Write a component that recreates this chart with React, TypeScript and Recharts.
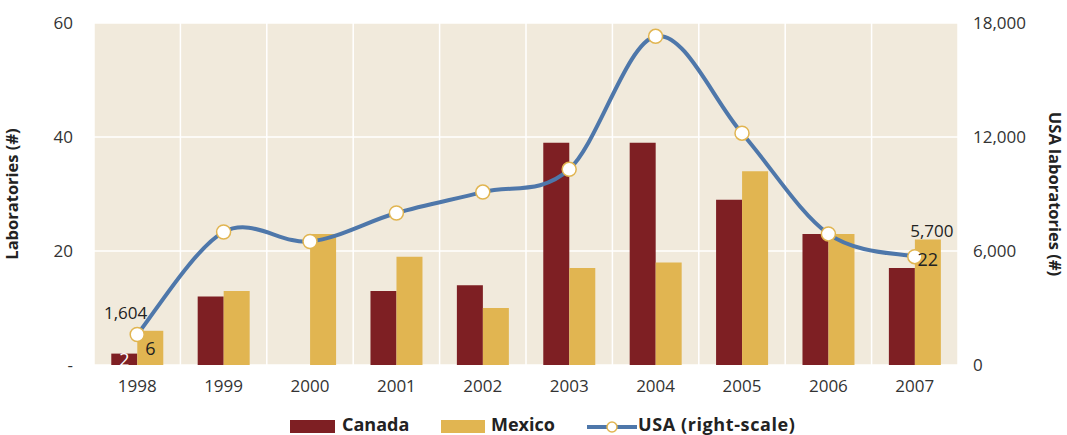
import React from 'react';
import {
  ComposedChart,
  Bar,
  Line,
  XAxis,
  YAxis,
  CartesianGrid,
  LabelList,
} from 'recharts';

const years = ['1998', '1999', '2000', '2001', '2002', '2003', '2004', '2005', '2006', '2007'];
const canada = [2, 12, 0, 13, 14, 39, 39, 29, 23, 17];
const mexico = [6, 13, 23, 19, 10, 17, 18, 34, 23, 22];
const usa = [1604, 7000, 6500, 8000, 9100, 10300, 17300, 12200, 6900, 5700];

const leftTicks = [0, 20, 40, 60];
const rightTicks = [0, 6000, 12000, 18000];

// only the first and last year carry value labels
const labelled = [0, 9];

const CANADA = '#7E1F23';
const MEXICO = '#E1B551';
const USA = '#4E77AA';
const PLOT_BG = '#F1EADC';
const FONT = '"Open Sans", sans-serif';

const data = years.map((year, i) => ({
  year,
  canada: canada[i],
  mexico: mexico[i],
  usa: usa[i],
}));

// Excel-style smoothed line (Catmull-Rom through every point)
const smoothCurve = (ctx: any) => {
  let pts: [number, number][] = [];
  return {
    areaStart() {},
    areaEnd() {},
    lineStart() {
      pts = [];
    },
    lineEnd() {
      pts.forEach(([x, y], i) => {
        if (i === 0) {
          ctx.moveTo(x, y);
          return;
        }
        const p0 = pts[Math.max(i - 2, 0)];
        const p1 = pts[i - 1];
        const p3 = pts[Math.min(i + 1, pts.length - 1)];
        ctx.bezierCurveTo(
          p1[0] + (x - p0[0]) / 6,
          p1[1] + (y - p0[1]) / 6,
          x - (p3[0] - p1[0]) / 6,
          y - (p3[1] - p1[1]) / 6,
          x,
          y
        );
      });
    },
    point(x: number, y: number) {
      pts.push([+x, +y]);
    },
  };
};

const barLabel = (color: string) => (props: any) => {
  const { x, y, width, height, value, index } = props;
  if (!labelled.includes(index)) return null;
  const cy = y + Math.min(19, height / 2);
  return (
    <text
      x={x + width / 2}
      y={cy}
      textAnchor="middle"
      dominantBaseline="central"
      fill={color}
      fontSize={18}
      fontFamily={FONT}
    >
      {value}
    </text>
  );
};

const usaLabel = (props: any) => {
  const { x, y, value, index } = props;
  if (!labelled.includes(index)) return null;
  const first = index === 0;
  return (
    <text
      x={first ? x + 10 : x + 17}
      y={first ? y - 22 : y - 26}
      textAnchor={first ? 'end' : 'middle'}
      dominantBaseline="central"
      fill="#222"
      fontSize={17}
      fontFamily={FONT}
    >
      {value.toLocaleString('en-US')}
    </text>
  );
};

const gridColumns = ({ offset }: any) =>
  years.map((_, i) => offset.left + (offset.width * i) / years.length).concat(offset.left + offset.width);

const tickStyle = { fill: '#333', fontSize: 17, fontFamily: FONT };

const LegendRow = () => (
  <div
    style={{
      position: 'absolute',
      left: 0,
      top: 417,
      width: 1067,
      height: 20,
      fontFamily: FONT,
      fontWeight: 700,
      fontSize: 18,
      color: '#222',
      whiteSpace: 'nowrap',
    }}
  >
    <div style={{ position: 'absolute', left: 290, top: 3, width: 45, height: 13, background: CANADA }} />
    <span style={{ position: 'absolute', left: 342, top: -5 }}>Canada</span>
    <div style={{ position: 'absolute', left: 441, top: 3, width: 44, height: 13, background: MEXICO }} />
    <span style={{ position: 'absolute', left: 491, top: -5 }}>Mexico</span>
    <svg style={{ position: 'absolute', left: 586, top: 0 }} width={52} height={20}>
      <line x1={1} y1={10} x2={51} y2={10} stroke={USA} strokeWidth={4} />
      <circle cx={26} cy={10} r={5} fill="#fff" stroke={MEXICO} strokeWidth={1.5} />
    </svg>
    <span style={{ position: 'absolute', left: 638, top: -5, letterSpacing: 0.6 }}>USA (right-scale)</span>
  </div>
);

export default function App() {
  return (
    <div style={{ position: 'absolute', left: 0, top: 0, width: 1067, height: 435, background: '#fff' }}>
      <ComposedChart
        width={1067}
        height={435}
        data={data}
        margin={{ top: 23, right: 0, bottom: 0, left: 0 }}
        barCategoryGap="20%"
        barGap={0}
      >
        <CartesianGrid
          yAxisId="left"
          fill={PLOT_BG}
          stroke="#fff"
          strokeWidth={1.5}
          verticalCoordinatesGenerator={gridColumns}
        />
        <XAxis
          dataKey="year"
          axisLine={false}
          tickLine={false}
          tickMargin={9}
          height={70}
          tick={tickStyle}
          interval={0}
        />
        <YAxis
          yAxisId="left"
          orientation="left"
          domain={[0, 60]}
          ticks={leftTicks}
          width={94}
          axisLine={false}
          tickLine={false}
          tickMargin={15}
          tick={tickStyle}
          tickFormatter={(v: number) => (v === 0 ? '-' : String(v))}
          label={{
            value: 'Laboratories (#)',
            angle: -90,
            position: 'insideLeft',
            offset: 12,
            style: { textAnchor: 'middle', fill: '#222', fontSize: 16.5, fontWeight: 700, fontFamily: FONT },
          }}
        />
        <YAxis
          yAxisId="right"
          orientation="right"
          domain={[0, 18000]}
          ticks={rightTicks}
          width={109}
          axisLine={false}
          tickLine={false}
          tickMargin={9}
          tick={{ ...tickStyle, textAnchor: 'start' }}
          tickFormatter={(v: number) => v.toLocaleString('en-US')}
          label={{
            value: 'USA laboratories (#)',
            angle: 90,
            position: 'insideRight',
            offset: 12,
            style: { textAnchor: 'middle', fill: '#222', fontSize: 16.5, fontWeight: 700, fontFamily: FONT },
          }}
        />
        <Bar yAxisId="left" dataKey="canada" name="Canada" fill={CANADA} isAnimationActive={false}>
          <LabelList dataKey="canada" content={barLabel('#fff')} />
        </Bar>
        <Bar yAxisId="left" dataKey="mexico" name="Mexico" fill={MEXICO} isAnimationActive={false}>
          <LabelList dataKey="mexico" content={barLabel('#222')} />
        </Bar>
        <Line
          yAxisId="right"
          dataKey="usa"
          name="USA (right-scale)"
          type={smoothCurve as any}
          stroke={USA}
          strokeWidth={4}
          dot={{ r: 7, fill: '#fff', stroke: MEXICO, strokeWidth: 1.5 }}
          activeDot={false}
          isAnimationActive={false}
        >
          <LabelList dataKey="usa" content={usaLabel} />
        </Line>
      </ComposedChart>
      <LegendRow />
    </div>
  );
}
